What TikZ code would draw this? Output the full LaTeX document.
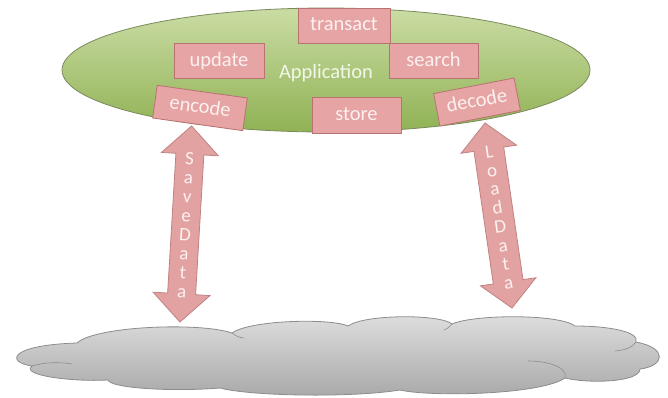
\documentclass[tikz,border=0pt]{standalone}
\usepackage{fontspec}
\setmainfont{Carlito}
\usetikzlibrary{calc}
\definecolor{boxfill}{HTML}{E6A4A4}
\definecolor{boxline}{HTML}{B87272}
\definecolor{boxtext}{HTML}{FCF0F0}
\definecolor{arrowfill}{HTML}{E3A2A2}
\definecolor{arrowline}{HTML}{C08282}
\definecolor{elltop}{HTML}{CADCA4}
\definecolor{ellbot}{HTML}{90B254}
\definecolor{ellline}{HTML}{7A8A5C}
\definecolor{apptext}{HTML}{F2F7EA}
\definecolor{cloudtop}{HTML}{DEDEDE}
\definecolor{cloudbot}{HTML}{A8A8A8}
\definecolor{cloudline}{HTML}{8C8C8C}
\begin{document}
\begin{tikzpicture}[x=1pt,y=-1pt,
  box/.style={draw=boxline, line width=0.8pt, fill=boxfill, text=boxtext,
    inner sep=0pt, font=\fontsize{20.5}{22}\selectfont, text height=13pt, text depth=3pt},
  blockarrow/.style={draw=arrowline, line width=0.8pt, fill=arrowfill, line join=miter},
  arrowtext/.style={text=boxtext, align=center, inner sep=0pt, transform shape,
    font=\fontsize{19}{19}\selectfont},
  cloudshape/.style={draw=cloudline, line width=0.8pt, top color=cloudtop, bottom color=cloudbot},
  crease/.style={draw=cloudline, line width=0.6pt}
]
\useasboundingbox (0,0) rectangle (668,397);

% cloud
\path[cloudshape] (77,343)
  .. controls (95,326) and (200,322) .. (232,333)
  .. controls (250,320) and (330,318) .. (348,326)
  .. controls (365,314) and (440,314) .. (452,324)
  .. controls (475,314) and (560,314) .. (575,326)
  .. controls (610,326) and (640,332) .. (636,342)
  .. controls (668,348) and (665,366) .. (640,369)
  .. controls (640,382) and (590,384) .. (565,378)
  .. controls (540,395) and (430,397) .. (400,390)
  .. controls (350,398) and (250,396) .. (220,388)
  .. controls (170,392) and (110,388) .. (108,380)
  .. controls (70,382) and (20,375) .. (32,366)
  .. controls (5,362) and (10,345) .. (77,343) -- cycle;
\path[crease] (636,342) .. controls (632,348) and (625,350) .. (615,351);
\path[crease] (565,378) .. controls (568,368) and (550,361) .. (528,361);
\path[crease] (32,366) .. controls (45,362) and (60,362) .. (72,364);
\path[crease] (232,333) .. controls (236,336) and (240,338) .. (244,338);
\path[crease] (452,324) .. controls (448,328) .. (444,330);

% arrows
\coordinate (saveTop) at (191.5,126);
\coordinate (saveBot) at (180,322);
\coordinate (loadTop) at (485,123);
\coordinate (loadBot) at (512,308);

\begin{scope}[shift={($(saveTop)!0.5!(saveBot)$)}, rotate=-3.4]
  \path[blockarrow] (0,-98.2) -- (28.5,-70) -- (14,-70) -- (14,70) -- (28.5,70)
    -- (0,98.2) -- (-28.5,70) -- (-14,70) -- (-14,-70) -- (-28.5,-70) -- cycle;
  \node[arrowtext] (savedata) at (0,1) {S\\a\\v\\e\\D\\a\\t\\a};
\end{scope}

\begin{scope}[shift={($(loadTop)!0.5!(loadBot)$)}, rotate=8.3]
  \path[blockarrow] (0,-93.5) -- (28,-67) -- (15,-67) -- (15,67) -- (28,67)
    -- (0,93.5) -- (-28,67) -- (-15,67) -- (-15,-67) -- (-28,-67) -- cycle;
  \node[arrowtext] (loaddata) at (0,2) {L\\o\\a\\d\\D\\a\\t\\a};
\end{scope}

% application ellipse
\path[draw=ellline, line width=0.8pt, top color=elltop, bottom color=ellbot]
  (326,70) ellipse [x radius=264, y radius=62];
\node[text=apptext, font=\fontsize{20.5}{22}\selectfont, inner sep=0pt] (app) at (326,73) {Application};

% boxes
\node[box, minimum width=92, minimum height=35] (transact) at (344,25.5) {transact};
\node[box, minimum width=90, minimum height=35] (update) at (219,61) {update};
\node[box, minimum width=89, minimum height=35] (search) at (433.5,61) {search};
\node[box, minimum width=91, minimum height=33, rotate=-8] (encode) at (200,108) {encode};
\node[box, minimum width=89, minimum height=36] (store) at (356.5,115) {store};
\node[box, minimum width=82, minimum height=33, rotate=11] (decode) at (477,102) {decode};
\end{tikzpicture}
\end{document}
